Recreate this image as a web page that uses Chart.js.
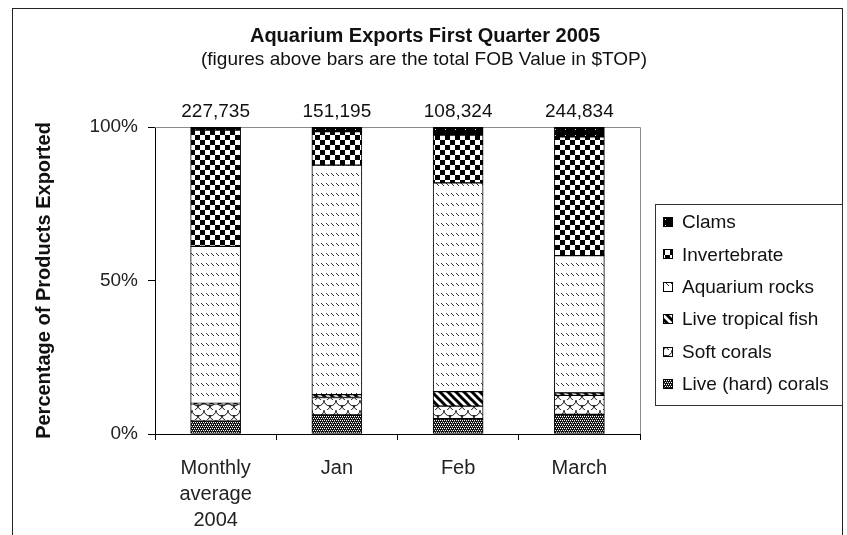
<!DOCTYPE html>
<html lang="en">
<head>
    <meta charset="UTF-8">
    <title>Aquarium Exports First Quarter 2005</title>
    <script src="https://cdn.jsdelivr.net/npm/chart.js"></script>
    <style>
        body { margin: 0; background: #fff; }
    </style>
</head>
<body>
    <canvas id="aquariumChart" width="847" height="535"></canvas>

    <script>
        // values (percent of each bar)
        const categories = [['Monthly', 'average', '2004'], 'Jan', 'Feb', 'March'];
        const totals = [227735, 151195, 108324, 244834];
        const hardCorals = [4.2, 6.2, 5.0, 6.4];
        const softCorals = [5.6, 5.7, 4.1, 6.2];
        const tropicalFish = [0.2, 0.9, 4.7, 0.8];
        const aquariumRocks = [51.1, 74.8, 68.0, 44.7];
        const invertebrate = [37.9, 10.9, 15.6, 38.7];
        const clams = [1.0, 1.5, 2.6, 3.2];
        const yTicks = [0, 50, 100];

        const FONT = "'Liberation Sans', Arial, sans-serif";

        // little helper to build the Excel-style fill patterns
        function makePattern(w, h, draw) {
            const c = document.createElement('canvas');
            c.width = w;
            c.height = h;
            const g = c.getContext('2d');
            g.fillStyle = '#fff';
            g.fillRect(0, 0, w, h);
            draw(g);
            return g.createPattern(c, 'repeat');
        }

        function pixels(g, rows, colors) {
            rows.forEach((row, y) => {
                for (let x = 0; x < row.length; x++) {
                    const col = colors[row[x]];
                    if (col) { g.fillStyle = col; g.fillRect(x, y, 1, 1); }
                }
            });
        }

        const hardPattern = makePattern(4, 4, g => {
            pixels(g, ['.#.#', '##x#', '#.#.', 'x###'], { '#': '#111', 'x': '#555' });
        });

        const softPattern = makePattern(12, 10, g => {
            g.strokeStyle = '#111';
            g.lineWidth = 1;
            g.beginPath();
            g.arc(6, 0, 6, 0, Math.PI);
            g.stroke();
            g.beginPath();
            g.arc(0, 5, 6, 0, Math.PI);
            g.stroke();
            g.beginPath();
            g.arc(12, 5, 6, 0, Math.PI);
            g.stroke();
            g.beginPath();
            g.arc(6, 10, 6, 0, Math.PI);
            g.stroke();
        });

        const fishPattern = makePattern(8, 8, g => {
            g.strokeStyle = '#000';
            g.lineWidth = 3;
            [-8, 0, 8].forEach(k => {
                g.beginPath();
                g.moveTo(k - 2, -2);
                g.lineTo(k + 10, 10);
                g.stroke();
            });
        });

        const rocksPattern = makePattern(5, 10, g => {
            pixels(g, ['.....', '.....', '.....', '.#...', '..#..', '...#.', '.....', '.....', '.....', '.....'], { '#': '#333' });
        });

        const invertPattern = makePattern(10, 10, g => {
            g.fillStyle = '#000';
            g.fillRect(0, 0, 5, 5);
            g.fillRect(5, 5, 5, 5);
        });

        const clamsPattern = makePattern(10, 6, g => {
            g.fillStyle = '#000';
            g.fillRect(0, 0, 10, 6);
            g.fillStyle = '#ddd';
            g.fillRect(5, 3, 1, 1);
        });

        // plot area frame, titles, totals above bars and the boxed legend
        const decorations = {
            id: 'decorations',
            beforeDraw(chart) {
                const ctx = chart.ctx;
                ctx.save();
                ctx.fillStyle = '#fff';
                ctx.fillRect(0, 0, chart.width, chart.height);
                ctx.strokeStyle = '#222';
                ctx.lineWidth = 1;
                ctx.strokeRect(12.5, 8.5, 830, 540);
                ctx.restore();
            },
            beforeDatasetsDraw(chart) {
                const { ctx, chartArea: a } = chart;
                ctx.save();
                ctx.strokeStyle = '#8a8a8a';
                ctx.lineWidth = 1;
                ctx.beginPath();
                ctx.moveTo(a.left, Math.round(a.top) + 0.5);
                ctx.lineTo(Math.round(a.right) + 0.5, Math.round(a.top) + 0.5);
                ctx.lineTo(Math.round(a.right) + 0.5, a.bottom);
                ctx.stroke();
                ctx.restore();
            },
            afterDraw(chart) {
                const ctx = chart.ctx;
                const xs = chart.scales.x;
                const ys = chart.scales.y;
                ctx.save();
                ctx.fillStyle = '#111';
                ctx.textAlign = 'center';
                ctx.textBaseline = 'alphabetic';
                ctx.font = 'bold 20px ' + FONT;
                ctx.fillText('Aquarium Exports First Quarter 2005', 425, 42);
                ctx.font = '19px ' + FONT;
                ctx.fillText('(figures above bars are the total FOB Value in $TOP)', 424, 65);

                totals.forEach((t, i) => {
                    ctx.fillText(t.toLocaleString('en-US'), xs.getPixelForValue(i), ys.getPixelForValue(100) - 10);
                });

                // legend
                ctx.strokeStyle = '#333';
                ctx.strokeRect(655.5, 204.5, 187, 201);
                ctx.textAlign = 'left';
                ctx.textBaseline = 'middle';
                const items = chart.data.datasets.slice().reverse();
                items.forEach((ds, i) => {
                    const y = 222 + i * 32.4;
                    ctx.fillStyle = ds.backgroundColor;
                    ctx.fillRect(663, Math.round(y - 5), 10, 10);
                    ctx.strokeStyle = '#000';
                    ctx.strokeRect(663.5, Math.round(y - 5) + 0.5, 9, 9);
                    ctx.fillStyle = '#111';
                    ctx.fillText(ds.label, 682, y + 1);
                });
                ctx.restore();
            }
        };

        function series(label, data, fill) {
            return {
                label: label,
                data: data,
                backgroundColor: fill,
                borderColor: '#000',
                borderWidth: 1,
                borderSkipped: false,
                barThickness: 50
            };
        }

        const config = {
            type: 'bar',
            data: {
                labels: categories,
                datasets: [
                    series('Live (hard) corals', hardCorals, hardPattern),
                    series('Soft corals', softCorals, softPattern),
                    series('Live tropical fish', tropicalFish, fishPattern),
                    series('Aquarium rocks', aquariumRocks, rocksPattern),
                    series('Invertebrate', invertebrate, invertPattern),
                    series('Clams', clams, clamsPattern)
                ]
            },
            options: {
                responsive: false,
                animation: false,
                devicePixelRatio: 1,
                layout: {
                    padding: { top: 127, left: 20, right: 207, bottom: 0 }
                },
                plugins: {
                    legend: { display: false },
                    title: { display: false },
                    tooltip: { enabled: false }
                },
                scales: {
                    x: {
                        stacked: true,
                        grid: { drawOnChartArea: false, tickLength: 6, color: '#000', offset: true },
                        border: { color: '#000' },
                        ticks: {
                            color: '#222',
                            padding: 15,
                            maxRotation: 0,
                            font: { family: FONT, size: 20, lineHeight: 1.3 }
                        },
                        afterFit(scale) { scale.height = 101; }
                    },
                    y: {
                        stacked: true,
                        min: 0,
                        max: 100,
                        afterBuildTicks(scale) { scale.ticks = yTicks.map(v => ({ value: v })); },
                        grid: { drawOnChartArea: false, tickLength: 7, color: '#000' },
                        border: { color: '#000' },
                        ticks: {
                            color: '#222',
                            padding: 10,
                            font: { family: FONT, size: 19 },
                            callback: v => v + '%'
                        },
                        title: {
                            display: true,
                            text: 'Percentage of Products Exported',
                            color: '#111',
                            padding: { top: 12, bottom: 0 },
                            font: { family: FONT, size: 20, weight: 'bold', lineHeight: 1.2 }
                        },
                        afterFit(scale) { scale.width = 135; }
                    }
                }
            },
            plugins: [decorations]
        };

        new Chart(document.getElementById('aquariumChart'), config);
    </script>
</body>
</html>
